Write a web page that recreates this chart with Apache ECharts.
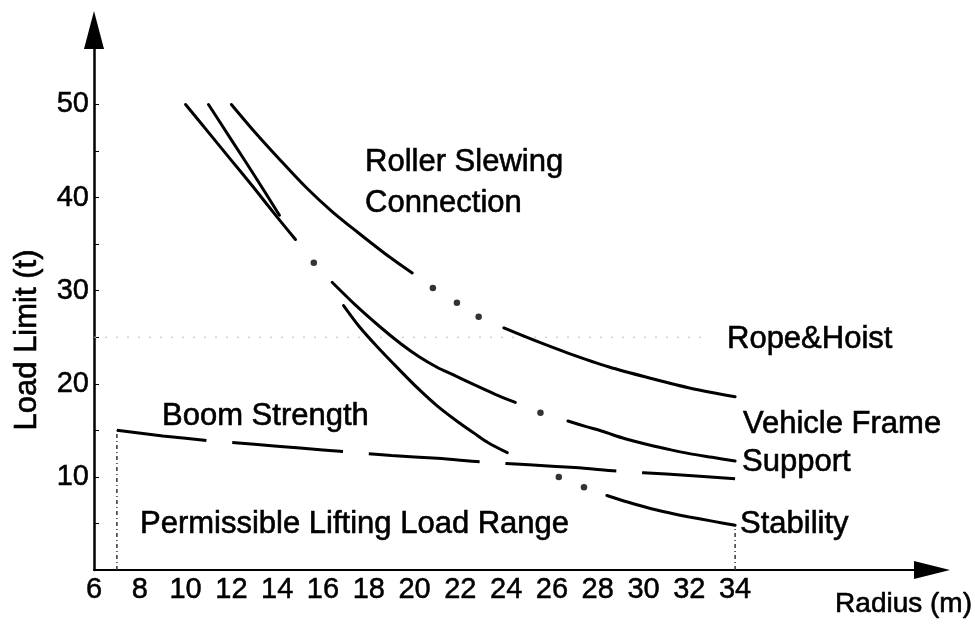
<!DOCTYPE html>
<html>
<head>
<meta charset="utf-8">
<title>Load Limit vs Radius</title>
<script src="https://cdn.jsdelivr.net/npm/echarts@6.0.0/dist/echarts.min.js"></script>
<style>
  html, body { margin: 0; padding: 0; background: #fff; }
  #main { width: 975px; height: 627px; }
</style>
</head>
<body>
<div id="main"></div>
<script>
// tick labels
var xTicks = [6, 8, 10, 12, 14, 16, 18, 20, 22, 24, 26, 28, 30, 32, 34];
var yTicks = [10, 20, 30, 40, 50];
var yMinorTicks = [5, 10, 15, 20, 25, 30, 35, 40, 45, 50];

// curves: [radius (m), load (t)], split into the drawn pieces
var rollerRope = [
  [[12, 50], [13, 47.1], [14.2, 43.85], [15.3, 41.0], [16.4, 38.5], [17.5, 36.3], [18.7, 34.0], [19.9, 31.9]],
  [[23.9, 26.0], [25.3, 24.6], [26.7, 23.3], [28.5, 21.8], [30.3, 20.6], [32.1, 19.5], [34, 18.6]]
];
var rollerRopeDots = [[20.8, 30.3], [21.85, 28.7], [22.8, 27.2]];

var vehicleFrame = [
  [[10, 50], [11, 47.0], [12, 44.0], [13, 41.0], [14, 37.9], [14.8, 35.5]],
  [[16.4, 30.9], [17.4, 28.5], [18.5, 26.1], [19.4, 24.3], [20.2, 22.9], [21, 21.75], [21.7, 20.95],
    [22.6, 19.9], [23.5, 18.9], [24.4, 18.0]],
  [[26.7, 16.0], [27.5, 15.4], [28.2, 14.9], [29.2, 14.1], [30.3, 13.4], [31.2, 12.9], [32, 12.5], [33, 12.1], [34, 11.7]]
];
var vehicleFrameDots = [[15.6, 33.0], [25.5, 16.9]];

var stability = [
  [[11, 50], [12, 46.2], [13, 42.4], [14.1, 38.1]],
  [[16.9, 28.4], [17.6, 26.1], [18.4, 23.9], [19.3, 21.6], [20.15, 19.5], [21, 17.6], [21.9, 15.9],
    [22.6, 14.7], [23.2, 13.7], [24.05, 12.6]],
  [[28.4, 8.0], [29.3, 7.3], [30.3, 6.6], [31.2, 6.1], [32, 5.7], [33, 5.25], [34, 4.8]]
];
var stabilityDots = [[26.3, 10.0], [27.4, 8.9]];

var boomStrength = [[7, 15], [9, 14.4], [11, 13.9], [13, 13.5], [15, 13.1], [17, 12.7], [19, 12.3],
  [21, 12.0], [23, 11.6], [25, 11.3], [27, 11.0], [29, 10.6], [31, 10.3], [34, 9.8]];

// faint guide lines of the permissible range
var guide25 = [[6, 25], [32.8, 25]];
var leftEdge = [[7, 0], [7, 15]];
var rightEdge = [[34, 0], [34, 4.8]];

var font = '"Liberation Sans", Arial, sans-serif';
var chart = echarts.init(document.getElementById('main'));

function pieces(segs) {
  return segs.map(function (seg) {
    return {
      type: 'line', data: seg, smooth: 0.3, symbol: 'none', silent: true, z: 3,
      lineStyle: { color: '#000', width: 3, cap: 'round' }
    };
  });
}
function dots(data) {
  return {
    type: 'scatter', data: data, symbol: 'circle', symbolSize: 6.5, silent: true, z: 3,
    itemStyle: { color: '#000' }
  };
}

var series = []
  .concat(pieces(rollerRope), pieces(vehicleFrame), pieces(stability))
  .concat([dots(rollerRopeDots), dots(vehicleFrameDots), dots(stabilityDots)]);

series.push({
  type: 'line', name: 'Boom Strength', data: boomStrength, smooth: 0.3, symbol: 'none', silent: true, z: 3,
  lineStyle: { color: '#000', width: 3, type: [111, 26], dashOffset: 21 }
});
series.push({
  type: 'line', data: guide25, symbol: 'none', silent: true, z: 1,
  lineStyle: { color: '#bbb', width: 1, type: [2, 9] }
});
series.push({
  type: 'line', data: leftEdge, symbol: 'none', silent: true, z: 1,
  lineStyle: { color: '#333', width: 1.5, type: [4, 3, 1, 3] }
});
series.push({
  type: 'line', data: rightEdge, symbol: 'none', silent: true, z: 1,
  lineStyle: { color: '#333', width: 1.5, type: [4, 3, 1, 3] }
});

function text(t, x, y, size, align, rotation) {
  return {
    type: 'text', x: x, y: y, rotation: rotation || 0, silent: true, z: 10,
    style: {
      text: t, font: (size || 31) + 'px ' + font, fill: '#000', stroke: '#000', lineWidth: 0.6,
      align: align || 'left', verticalAlign: 'middle'
    }
  };
}

var tickLabel = {
  color: '#000', fontSize: 29, fontFamily: font, margin: 5,
  textBorderColor: '#000', textBorderWidth: 0.5
};

var option = {
  animation: false,
  backgroundColor: '#fff',
  grid: { left: 94, right: 43, top: 30, bottom: 57 },
  xAxis: {
    type: 'value', min: 6, max: 42.6,
    axisLine: { lineStyle: { color: '#000', width: 2 }, symbol: ['none', 'triangle'], symbolSize: [18, 36] },
    axisTick: { show: false },
    axisLabel: Object.assign({ customValues: xTicks }, tickLabel),
    splitLine: { show: false }
  },
  yAxis: {
    type: 'value', min: 0, max: 58,
    axisLine: { show: true, lineStyle: { color: '#000', width: 2.5 }, symbol: ['none', 'triangle'], symbolSize: [20, 38] },
    axisTick: { show: true, inside: true, length: 5, customValues: yMinorTicks, lineStyle: { color: '#000', width: 1 } },
    axisLabel: Object.assign({ customValues: yTicks }, tickLabel),
    splitLine: { show: false }
  },
  graphic: [
    text('Roller Slewing', 365, 162),
    text('Connection', 365, 203),
    text('Rope&Hoist', 727, 339),
    text('Vehicle Frame', 743, 424),
    text('Support', 742, 462),
    text('Stability', 740, 524),
    text('Boom Strength', 162, 416),
    text('Permissible Lifting Load Range', 140, 524),
    text('Radius (m)', 972, 604, 28, 'right'),
    text('Load Limit (t)', 27, 340, 31, 'center', Math.PI / 2)
  ],
  series: series
};
chart.setOption(option);
</script>
</body>
</html>
